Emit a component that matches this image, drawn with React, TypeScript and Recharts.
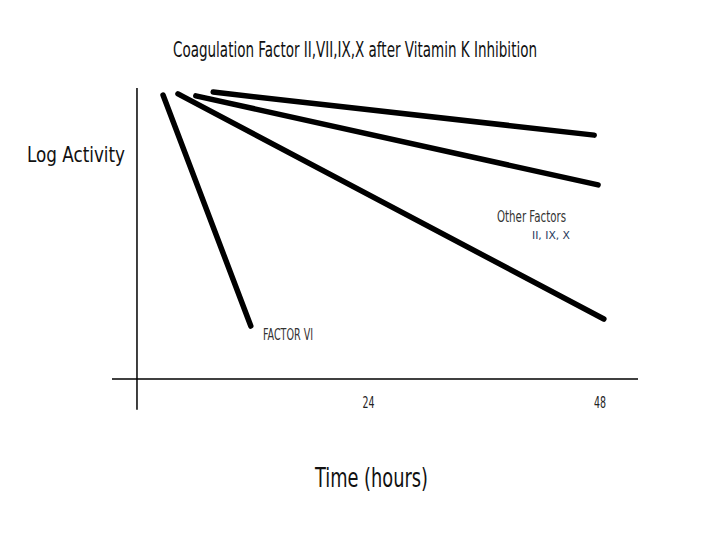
import { LineChart, Line, XAxis, YAxis, ReferenceLine } from 'recharts';

// time in hours, log activity in arbitrary units (0 = axis, 100 = top of axis)
const factorVII = [
  { t: 2.7, v: 97.6 },
  { t: 11.8, v: 18.2 },
];
const otherA = [
  { t: 4.25, v: 98.0 },
  { t: 48.4, v: 20.6 },
];
const otherB = [
  { t: 6.1, v: 97.3 },
  { t: 47.8, v: 66.7 },
];
const otherC = [
  { t: 7.9, v: 98.6 },
  { t: 47.4, v: 83.8 },
];

const SERIES = [factorVII, otherA, otherB, otherC];
const TIME_TICKS = [24, 48];

const FONT = '"DejaVu Sans Condensed", "Liberation Sans Narrow", "DejaVu Sans", sans-serif';

const TickLabel = ({ x, y, payload }: any) => (
  <text
    x={x}
    y={y}
    dy="0.71em"
    textAnchor="middle"
    fontFamily={FONT}
    fontSize={16}
    fill="#222"
    textLength={12}
    lengthAdjust="spacingAndGlyphs"
  >
    {payload.value}
  </text>
);

const Txt = ({ x, y, len, size, color = '#111', children }: any) => (
  <text
    x={x}
    y={y}
    fontFamily={FONT}
    fontSize={size}
    fill={color}
    textLength={len}
    lengthAdjust="spacingAndGlyphs"
  >
    {children}
  </text>
);

export default function App() {
  return (
    <div style={{ position: 'absolute', left: 0, top: 0, width: 720, height: 540, background: '#fff' }}>
      <LineChart width={720} height={540} margin={{ top: 88, right: 82, bottom: 131, left: 112 }}>
        <XAxis
          type="number"
          dataKey="t"
          domain={[-2.59, 51.94]}
          ticks={TIME_TICKS}
          height={30}
          tickLine={false}
          tickSize={6}
          tickMargin={12}
          axisLine={{ stroke: '#000', strokeWidth: 1.5 }}
          tick={<TickLabel />}
        />
        <YAxis type="number" dataKey="v" domain={[0, 100]} hide />
        <ReferenceLine
          segment={[{ x: 0, y: -10.6 }, { x: 0, y: 100 }]}
          stroke="#000"
          strokeWidth={1.5}
          ifOverflow="visible"
        />
        {SERIES.map((d, i) => (
          <Line
            key={i}
            data={d}
            dataKey="v"
            stroke="#000"
            strokeWidth={5.5}
            strokeLinecap="round"
            dot={false}
            isAnimationActive={false}
          />
        ))}
      </LineChart>
      <svg width={720} height={540} style={{ position: 'absolute', left: 0, top: 0, pointerEvents: 'none' }}>
        <Txt x={173} y={57} len={364} size={22}>Coagulation Factor II,VII,IX,X after Vitamin K Inhibition</Txt>
        <Txt x={27} y={162} len={98} size={21}>Log Activity</Txt>
        <Txt x={315} y={487} len={113} size={26}>Time (hours)</Txt>
        <Txt x={497} y={222} len={69} size={15} color="#333">Other Factors</Txt>
        <Txt x={532} y={239} len={38} size={11} color="#1f3a5c">II, IX, X</Txt>
        <Txt x={263} y={340} len={50} size={16} color="#333">FACTOR VI</Txt>
      </svg>
    </div>
  );
}
